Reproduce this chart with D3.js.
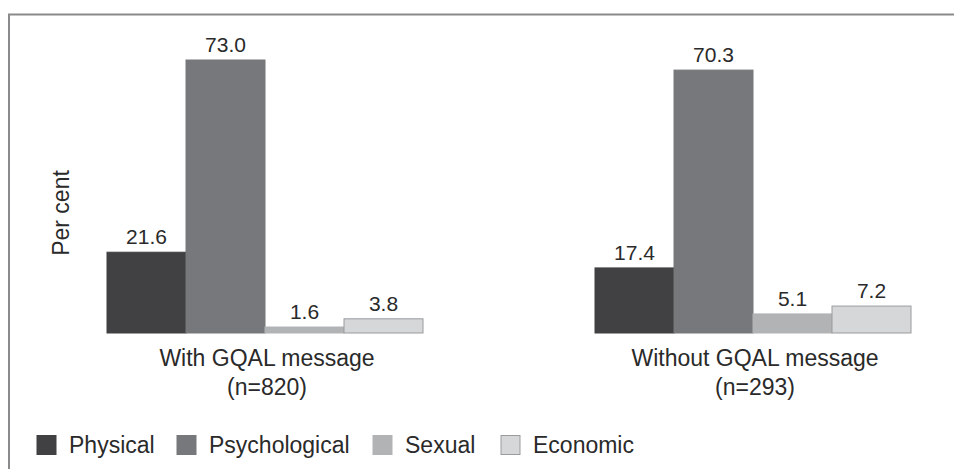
<!DOCTYPE html>
<html>
<head>
<meta charset="utf-8">
<script src="https://cdn.jsdelivr.net/npm/d3@7"></script>
<style>
  html, body { margin: 0; padding: 0; background: #fff; }
  svg text { font-family: "Liberation Sans", Arial, Helvetica, sans-serif; fill: #2a2a2a; }
</style>
</head>
<body>
<svg id="chart" width="954" height="469"></svg>
<script>
const groups = ["With GQAL message", "Without GQAL message"];
const groupSub = ["(n=820)", "(n=293)"];
const series = ["Physical", "Psychological", "Sexual", "Economic"];
const physical = [21.6, 17.4];
const psychological = [73.0, 70.3];
const sexual = [1.6, 5.1];
const economic = [3.8, 7.2];
const colors = ["#414143", "#77787b", "#b1b3b5", "#d6d7d9"];
const strokes = ["#414143", "#77787b", "#b1b3b5", "#9a9b9d"];

const values = [physical, psychological, sexual, economic];
const data = [];
groups.forEach((g, gi) => series.forEach((s, si) => data.push({ g, s, si, v: values[si][gi] })));

const svg = d3.select("#chart");

// frame
svg.append("path")
  .attr("d", "M9,480 L9,14.5 L960,14.5")
  .attr("fill", "none").attr("stroke", "#8a8a8c").attr("stroke-width", 2);

const baseY = 333;
const y = d3.scaleLinear().domain([0, 73.0]).range([baseY, 60]);
const groupW = 316;
const x0 = d3.scaleOrdinal().domain(groups).range([107, 595]);
const x1 = d3.scaleBand().domain(series).range([0, groupW]).padding(0);

const g = svg.append("g");
g.selectAll("rect.bar").data(data).enter().append("rect")
  .attr("class", "bar")
  .attr("x", d => x0(d.g) + x1(d.s))
  .attr("y", d => y(d.v))
  .attr("width", x1.bandwidth())
  .attr("height", d => baseY - y(d.v))
  .attr("fill", d => colors[d.si])
  .attr("stroke", d => strokes[d.si])
  .attr("stroke-width", 1);

g.selectAll("text.val").data(data).enter().append("text")
  .attr("class", "val")
  .attr("x", d => x0(d.g) + x1(d.s) + x1.bandwidth() / 2)
  .attr("y", d => y(d.v) - 8)
  .attr("text-anchor", "middle")
  .attr("font-size", 21)
  .text(d => d.v.toFixed(1));

// category labels
groups.forEach((gname, i) => {
  const cx = x0(gname) + groupW / 2 + 2;
  svg.append("text").attr("x", cx).attr("y", 366).attr("text-anchor", "middle")
    .attr("font-size", 23).text(gname);
  svg.append("text").attr("x", cx).attr("y", 395).attr("text-anchor", "middle")
    .attr("font-size", 23).text(groupSub[i]);
});

// y axis title
svg.append("text")
  .attr("transform", "translate(69,213) rotate(-90)")
  .attr("text-anchor", "middle")
  .attr("font-size", 23)
  .text("Per cent");

// legend
const legX = [37, 177, 373, 501];
const leg = svg.append("g");
series.forEach((s, i) => {
  leg.append("rect").attr("x", legX[i]).attr("y", 435.5).attr("width", 19).attr("height", 19)
    .attr("fill", colors[i]).attr("stroke", strokes[i]).attr("stroke-width", 1);
  leg.append("text").attr("x", legX[i] + 32).attr("y", 453)
    .attr("font-size", 23).text(s);
});
</script>
</body>
</html>
